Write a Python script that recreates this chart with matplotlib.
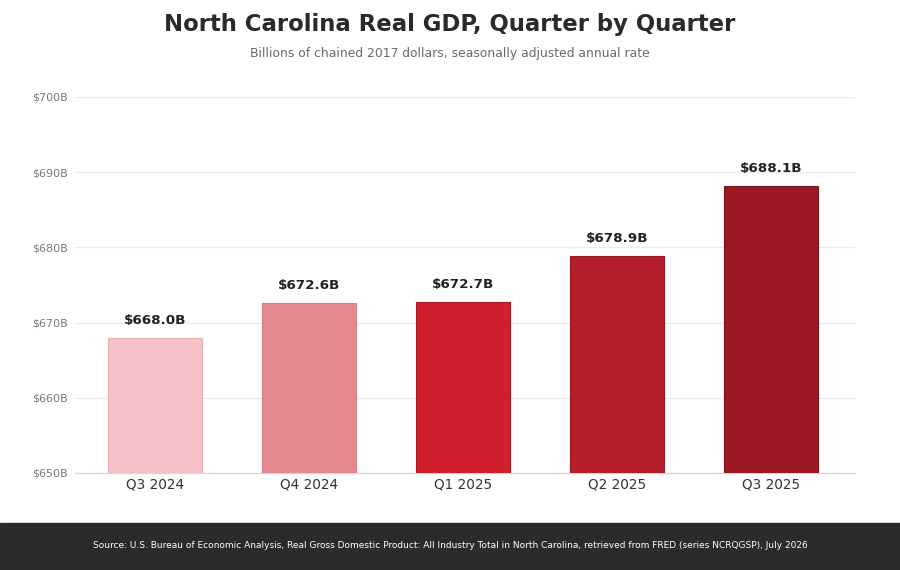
import matplotlib
matplotlib.use("Agg")
import matplotlib.pyplot as plt
from matplotlib.patches import Rectangle

plt.rcParams["font.family"] = ["DejaVu Sans"]

quarters = ["Q3 2024", "Q4 2024", "Q1 2025", "Q2 2025", "Q3 2025"]
gdp = [668.0, 672.6, 672.7, 678.9, 688.1]
colors = ["#f3c1c6", "#e3898f", "#d11f2e", "#b41e2b", "#9b1724"]
edges = ["#eab3b9", "#d97c83", "#a81826", "#951824", "#7e121d"]
yticks = [650, 660, 670, 680, 690, 700]

fig = plt.figure(figsize=(9, 5.7), dpi=100)
ax = fig.add_axes([75/900, 1 - 473/570, 780/900, (473 - 97)/570])

x = list(range(len(quarters)))
ax.bar(x, gdp, width=0.61, color=colors, edgecolor=edges, linewidth=0.8, zorder=3)
for xi, v in zip(x, gdp):
    ax.annotate(f"${v:.1f}B", (xi, v), xytext=(0, 8), textcoords="offset points",
                ha="center", va="bottom", fontsize=9.7, fontweight="bold", color="#222222")

ax.set_ylim(650, 700)
ax.set_xlim(-0.52, 4.545)
ax.set_yticks(yticks)
ax.set_yticklabels([f"${t}B" for t in yticks])
ax.set_xticks(x)
ax.set_xticklabels(quarters)
ax.tick_params(axis="y", length=0, labelsize=8, colors="#777777", pad=5)
ax.tick_params(axis="x", length=0, labelsize=9.8, colors="#333333", pad=3)
ax.grid(axis="y", color="#ebebeb", linewidth=0.9, zorder=0)
for s in ["top", "right", "left"]:
    ax.spines[s].set_visible(False)
ax.spines["bottom"].set_color("#d6d6d6")
ax.spines["bottom"].set_linewidth(0.9)

fig.text(0.5, 1 - 25/570, "North Carolina Real GDP, Quarter by Quarter", ha="center", va="center",
         fontsize=16.4, fontweight="bold", color="#2a2a2a")
fig.text(0.5, 1 - 53/570, "Billions of chained 2017 dollars, seasonally adjusted annual rate", ha="center",
         va="center", fontsize=8.9, color="#6a6a6a")

fig.patches.append(Rectangle((0, 0), 1, 47/570, transform=fig.transFigure, color="#2b2b2b", zorder=0))
fig.text(0.5, 1 - 546/570,
         "Source: U.S. Bureau of Economic Analysis, Real Gross Domestic Product: All Industry Total in North Carolina, retrieved from FRED (series NCRQGSP), July 2026",
         ha="center", va="center", fontsize=6.45, color="#ffffff")

fig.savefig("out.png", dpi=100, facecolor="white")
